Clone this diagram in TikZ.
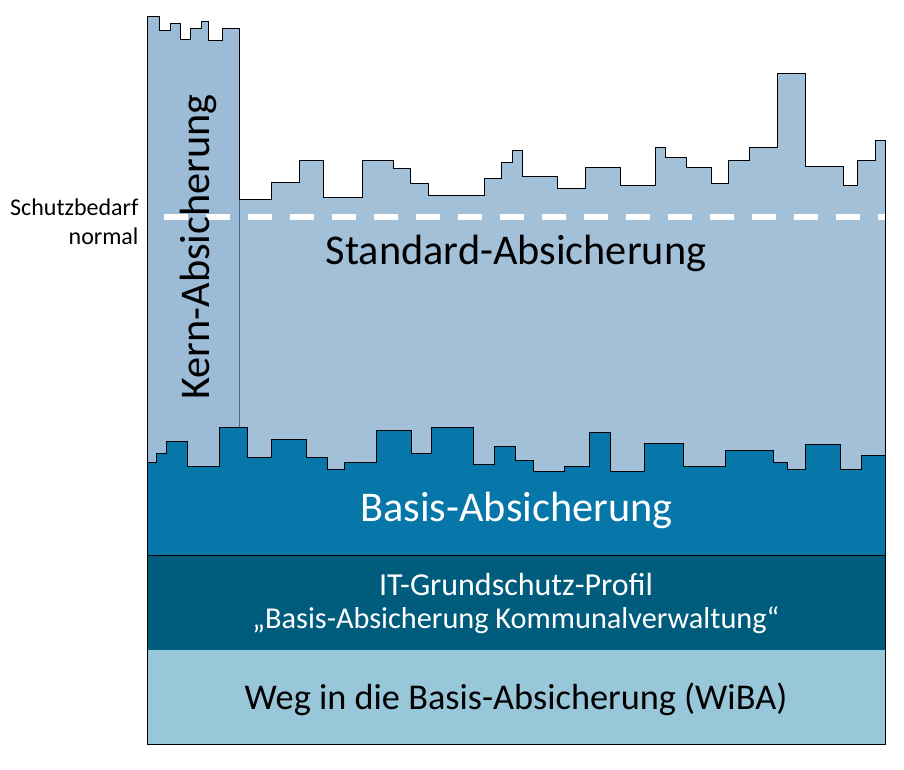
\documentclass[tikz,border=0pt]{standalone}
\usepackage{fontspec}
\setmainfont{Carlito}
\definecolor{kernblue}{HTML}{9CBBD7}
\definecolor{standardblue}{HTML}{A3C0D9}
\definecolor{dividerblue}{HTML}{43698C}
\definecolor{basisblue}{HTML}{0776A8}
\definecolor{profilblue}{HTML}{005C7C}
\definecolor{wibablue}{HTML}{99C7DA}
\tikzset{
    outline/.style={draw=black, line width=.9pt},
    biglabel/.style={font=\fontsize{42.3}{46}\selectfont},
    widelabel/.style={font=\fontsize{36.3}{40}\selectfont},
    midlabel/.style={font=\fontsize{32}{33}\selectfont, align=center},
    sidelabel/.style={font=\fontsize{24}{29}\selectfont, align=right, anchor=east}
}

\begin{document}
\begin{tikzpicture}[x=1pt,y=-1pt]
    \useasboundingbox (0,0) rectangle (904,769);

    % Standard
    \draw[outline, fill=standardblue] (239.7,199.3) -| (271.3,182) -| (299.3,160.7) -| (323.7,197.7) -| (362,160.7)
        -| (393.3,168) -| (410.7,183.3) -| (428.3,195.7) -| (484,178.3) -| (501.7,162.7) -| (512.3,150.3)
        -| (522.7,176.7) -| (557.3,188.7) -| (585.3,167.7) -| (620.3,185.3) -| (655,147) -| (665.7,157.3)
        -| (686.7,167.7) -| (711,183.7) -| (728.3,160.7) -| (749.3,147) -| (777.3,73.7) -| (805.3,166.3)
        -| (843.7,185.3) -| (857.3,160.7) -| (875,140) -| (885.3,480) -- (239.7,480) -- cycle;

    % Kern
    \draw[outline, fill=kernblue] (147.5,16.7) -| (159.7,30) -| (170,23.3) -| (180.7,39) -| (190.7,28.7)
        -| (201.3,21.7) -| (208.3,40.3) -| (222.3,28.7) -| (239.7,480) -- (147.5,480) -- cycle;
    \draw[dividerblue, line width=1pt] (239.7,199.9) -- (239.7,440);

    % Basis
    \draw[outline, fill=basisblue] (147.5,462.7) -| (156.3,453.3) -| (166.7,441.3) -| (187.7,466) -| (219,427.3)
        -| (247,457) -| (271.3,439.3) -| (306.3,457) -| (327.3,469.3) -| (344.7,462.7) -| (376,430.7)
        -| (411,453.7) -| (431.7,427.3) -| (473.7,464.3) -| (494.7,446.3) -| (515.7,460.3) -| (533.3,471.3)
        -| (564.3,466) -| (589,432.3) -| (610,471.3) -| (644.3,443) -| (683.3,466) -| (725,450)
        -| (773.7,462.3) -| (787.7,469.3) -| (805.3,444.7) -| (840,469.3) -| (861,455.3) -| (885.3,555.3)
        -- (147.5,555.3) -- cycle;

    \fill[profilblue] (147.5,555.3) rectangle (885.3,650);
    \fill[wibablue] (147.5,650) rectangle (885.3,744);

    \draw[outline] (147.5,462.7) -- (147.5,744.8) -- (885.3,744.8) -- (885.3,555.3) -- (147.5,555.3);

    \draw[white, line width=5.5pt, dash pattern=on 24pt off 18pt] (164,217) -- (885,217);

    \node[biglabel] (standard) at (516,253) {Standard-Absicherung};
    \node[biglabel, rotate=90] (kern) at (198.5,247) {Kern-Absicherung};
    \node[biglabel, white] (basis) at (516.5,510) {Basis-Absicherung};
    \node[midlabel, white] (profil) at (516,603) {IT-Grundschutz-Profil\\\fontsize{30.3}{33}\selectfont „Basis-Absicherung Kommunalverwaltung“};
    \node[widelabel] (wiba) at (516,699) {Weg in die Basis-Absicherung (WiBA)};
    \node[sidelabel] (schutz) at (142,222) {Schutzbedarf\\normal};
\end{tikzpicture}
\end{document}
